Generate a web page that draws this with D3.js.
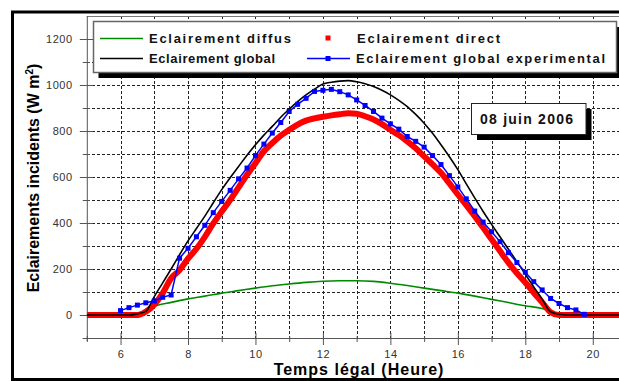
<!DOCTYPE html>
<html>
<head>
<meta charset="utf-8">
<script src="https://cdn.jsdelivr.net/npm/d3@7"></script>
<style>
  html, body { margin: 0; padding: 0; background: #fff; }
  svg { display: block; }
  text { font-family: "Liberation Sans", Arial, sans-serif; }
</style>
</head>
<body>
<svg id="chart" width="619" height="381"></svg>
<script>
// ---- Data: irradiance on 8 June 2006 (W m-2) versus local time (h) ----

// Modelled global and direct irradiance, quarter-hour grid
const modelHours = [5, 6.25, 6.5, 6.75, 7, 7.25, 7.5, 7.75, 8, 8.25, 8.5, 8.75, 9, 9.25, 9.5, 9.75,
  10, 10.25, 10.5, 10.75, 11, 11.25, 11.5, 11.75, 12, 12.25, 12.5, 12.75, 13, 13.25, 13.5, 13.75,
  14, 14.25, 14.5, 14.75, 15, 15.25, 15.5, 15.75, 16, 16.25, 16.5, 16.75, 17, 17.25, 17.5, 17.75,
  18, 18.25, 18.5, 18.75, 19, 19.25, 21];

const globalValues = [0, 0, 5, 16, 80, 140, 200, 262, 322, 376, 430, 488, 545, 597, 646, 695,
  740, 782, 820, 860, 895, 928, 957, 982, 1004, 1012, 1017, 1019, 1014, 1005, 993, 977,
  957, 933, 906, 872, 834, 790, 740, 688, 632, 570, 509, 450, 394, 340, 286, 232,
  177, 122, 69, 14, 3, 0, 0];

const directValues = [0, 0, 0, 14, 45, 95, 160, 195, 245, 288, 340, 398, 450, 500, 555, 610,
  660, 712, 748, 780, 805, 828, 845, 855, 862, 868, 873, 877, 875, 864, 850, 830,
  805, 782, 755, 725, 690, 655, 618, 572, 524, 478, 430, 380, 329, 278, 228, 182,
  141, 97, 55, 12, 0, 0, 0];

// Modelled diffuse irradiance, half-hour grid
const diffuseHours = [5, 6.5, 6.75, 7, 7.5, 8, 8.5, 9, 9.5, 10, 10.5, 11, 11.5, 12, 12.5, 13,
  13.5, 14, 14.5, 15, 15.5, 16, 16.5, 17, 17.5, 18, 18.5, 18.75, 19, 21];
const diffuseValues = [0, 0, 25, 38, 55, 70, 82, 95, 106, 117, 127, 135, 142, 147, 149, 149,
  146, 138, 128, 117, 106, 95, 82, 68, 54, 40, 28, 15, 0, 0];

// Measured global irradiance, every 15 minutes
const measuredHours = [6, 6.25, 6.5, 6.75, 7, 7.25, 7.5, 7.75, 8, 8.25, 8.5, 8.75, 9, 9.25, 9.5, 9.75,
  10, 10.25, 10.5, 10.75, 11, 11.25, 11.5, 11.75, 12, 12.25, 12.5, 12.75, 13, 13.25, 13.5, 13.75,
  14, 14.25, 14.5, 14.75, 15, 15.25, 15.5, 15.75, 16, 16.25, 16.5, 16.75, 17, 17.25, 17.5, 17.75,
  18, 18.25, 18.5, 18.75, 19, 19.25, 19.5, 19.75];
const measuredValues = [19, 32, 43, 53, 61, 77, 87, 247, 290, 340, 390, 445, 494, 542, 592, 639,
  693, 743, 791, 837, 885, 916, 942, 972, 977, 981, 971, 957, 935, 911, 885, 856,
  831, 808, 776, 755, 730, 693, 654, 606, 557, 505, 452, 404, 362, 319, 271, 228,
  186, 145, 109, 72, 50, 32, 22, 3];

// Axis ticks
const xMajorTicks = [6, 8, 10, 12, 14, 16, 18, 20];
const xMinorTicks = [5, 7, 9, 11, 13, 15, 17, 19, 21];
const yMajorTicks = [0, 200, 400, 600, 800, 1000, 1200];
const yMinorTicks = [-100, 100, 300, 500, 700, 900, 1100];
const xGrid = [6, 7, 8, 9, 10, 11, 12, 13, 14, 15, 16, 17, 18, 19, 20, 21];
const yGrid = [0, 100, 200, 300, 400, 500, 600, 700, 800, 900, 1000, 1100, 1200];

const legendLabels = ["Eclairement diffus", "Eclairement direct",
                      "Eclairement global", "Eclairement global experimental"];
const dateLabel = "08 juin 2006";
const xTitle = "Temps légal (Heure)";

// ---- Layout ----
const W = 619, H = 381;
const svg = d3.select("#chart");

const x = d3.scaleLinear().domain([5, 21]).range([86.8, 626.5]);
const y = d3.scaleLinear().domain([-100, 1300]).range([338, 16]);

const zip = (xs, ys) => xs.map((h, i) => [h, ys[i]]);
const globalData = zip(modelHours, globalValues);
const directData = zip(modelHours, directValues);
const diffuseData = zip(diffuseHours, diffuseValues);
const measuredData = zip(measuredHours, measuredValues);

// Outer frame (open on the right, beyond the window edge)
svg.append("rect")
  .attr("x", 12.5).attr("y", 12)
  .attr("width", W + 10).attr("height", 367.5)
  .attr("fill", "#fff").attr("stroke", "#000").attr("stroke-width", 3);

// Clip region for the plotting area
svg.append("defs").append("clipPath").attr("id", "plotClip")
  .append("rect")
  .attr("x", x(5)).attr("y", y(1300))
  .attr("width", W - x(5)).attr("height", y(-100) - y(1300));

// Grid
const grid = svg.append("g").attr("stroke", "#222").attr("stroke-width", 1)
  .attr("stroke-dasharray", "3,2").attr("shape-rendering", "crispEdges");
grid.selectAll(".vg").data(xGrid).join("line")
  .attr("x1", d => Math.round(x(d)) + 0.5).attr("x2", d => Math.round(x(d)) + 0.5)
  .attr("y1", y(1300)).attr("y2", y(-100));
grid.selectAll(".hg").data(yGrid).join("line")
  .attr("x1", x(5)).attr("x2", W)
  .attr("y1", d => Math.round(y(d)) + 0.5).attr("y2", d => Math.round(y(d)) + 0.5);

// Top border of the plot area
svg.append("line")
  .attr("x1", x(5)).attr("x2", W)
  .attr("y1", y(1300) + 0.5).attr("y2", y(1300) + 0.5)
  .attr("stroke", "#777").attr("stroke-width", 1);

// Axes
function styleAxis(g) {
  g.select(".domain").attr("stroke", "#555").attr("stroke-width", 1);
  g.selectAll(".tick line").attr("stroke", "#555").attr("stroke-width", 1);
  g.selectAll(".tick text")
    .attr("fill", "#333")
    .style("font-family", "'Liberation Sans', Arial, sans-serif")
    .style("font-size", "11px")
    .style("letter-spacing", "0.6px");
}

const gyMinor = svg.append("g").attr("transform", `translate(${x(5)},0)`)
  .call(d3.axisLeft(y).tickValues(yMinorTicks).tickSize(4).tickSizeOuter(0).tickFormat(""));
gyMinor.select(".domain").remove();
gyMinor.selectAll(".tick line").attr("x1", 3);
styleAxis(gyMinor);

const gy = svg.append("g").attr("transform", `translate(${x(5)},0)`)
  .call(d3.axisLeft(y).tickValues(yMajorTicks).tickSize(7).tickSizeOuter(0).tickPadding(7)
        .tickFormat(d3.format("d")));
gy.select(".domain").attr("d", `M0.5,${y(1300)}V${y(-100) + 3}`);
gy.selectAll(".tick line").attr("x1", 6);
styleAxis(gy);

const gxMinor = svg.append("g").attr("transform", `translate(0,${y(-100)})`)
  .call(d3.axisBottom(x).tickValues(xMinorTicks).tickSize(4).tickSizeOuter(0).tickFormat(""));
gxMinor.select(".domain").remove();
gxMinor.selectAll(".tick line").attr("y1", -2);
styleAxis(gxMinor);

const gx = svg.append("g").attr("transform", `translate(0,${y(-100)})`)
  .call(d3.axisBottom(x).tickValues(xMajorTicks).tickSize(7).tickSizeOuter(0).tickPadding(5)
        .tickFormat(d3.format("d")));
gx.select(".domain").attr("d", `M${x(5) - 4},0.5H${W}`);
gx.selectAll(".tick line").attr("y1", -5);
styleAxis(gx);

// Series
const line = d3.line().x(d => x(d[0])).y(d => y(d[1])).curve(d3.curveMonotoneX);
const plot = svg.append("g").attr("clip-path", "url(#plotClip)");

plot.append("path").datum(diffuseData).attr("d", line)
  .attr("fill", "none").attr("stroke", "#008a00").attr("stroke-width", 1.6);

plot.append("path").datum(directData).attr("d", line)
  .attr("fill", "none").attr("stroke", "#ff0000").attr("stroke-width", 6)
  .attr("stroke-linejoin", "miter");

plot.append("path").datum(globalData).attr("d", line)
  .attr("fill", "none").attr("stroke", "#000").attr("stroke-width", 1.6);

plot.append("path").datum(measuredData).attr("d", d3.line().x(d => x(d[0])).y(d => y(d[1])))
  .attr("fill", "none").attr("stroke", "#0000ff").attr("stroke-width", 1.5);

plot.selectAll(".mk").data(measuredData).join("rect")
  .attr("x", d => x(d[0]) - 2.5).attr("y", d => y(d[1]) - 2.5)
  .attr("width", 5).attr("height", 5).attr("fill", "#0000ff");

// Legend
const lg = svg.append("g");
lg.append("rect").attr("x", 98.5).attr("y", 27).attr("width", 523).attr("height", 51).attr("fill", "#000");
lg.append("rect").attr("x", 93.5).attr("y", 21.5).attr("width", 523).attr("height", 51)
  .attr("fill", "#fff").attr("stroke", "#666").attr("stroke-width", 1.5);

const legendFont = g => g.attr("fill", "#111")
  .style("font-size", "13px").style("font-weight", "bold");

// diffuse
lg.append("line").attr("x1", 100).attr("x2", 143).attr("y1", 38.5).attr("y2", 38.5)
  .attr("stroke", "#008a00").attr("stroke-width", 1.6);
lg.append("text").attr("x", 149).attr("y", 43).text(legendLabels[0])
  .attr("textLength", 142).attr("lengthAdjust", "spacing").call(legendFont);
// direct
lg.append("rect").attr("x", 325.5).attr("y", 35.5).attr("width", 5).attr("height", 5).attr("fill", "#ff0000");
lg.append("text").attr("x", 357).attr("y", 43).text(legendLabels[1])
  .attr("textLength", 143).attr("lengthAdjust", "spacing").call(legendFont);
// global
lg.append("line").attr("x1", 100).attr("x2", 143).attr("y1", 58.5).attr("y2", 58.5)
  .attr("stroke", "#000").attr("stroke-width", 1.6);
lg.append("text").attr("x", 149).attr("y", 63).text(legendLabels[2])
  .attr("textLength", 126).attr("lengthAdjust", "spacing").call(legendFont);
// measured
lg.append("line").attr("x1", 307).attr("x2", 350).attr("y1", 58.5).attr("y2", 58.5)
  .attr("stroke", "#0000ff").attr("stroke-width", 1.5);
lg.append("rect").attr("x", 325.5).attr("y", 56).attr("width", 5).attr("height", 5).attr("fill", "#0000ff");
lg.append("text").attr("x", 356).attr("y", 63).text(legendLabels[3])
  .attr("textLength", 249).attr("lengthAdjust", "spacing").call(legendFont);

// Date box
const db = svg.append("g");
db.append("rect").attr("x", 477).attr("y", 109).attr("width", 114.5).attr("height", 31).attr("fill", "#000");
db.append("rect").attr("x", 471.5).attr("y", 103.5).attr("width", 114.5).attr("height", 31)
  .attr("fill", "#fff").attr("stroke", "#222").attr("stroke-width", 1);
db.append("text").attr("x", 480).attr("y", 124).text(dateLabel)
  .attr("textLength", 93).attr("lengthAdjust", "spacing")
  .attr("fill", "#111").style("font-size", "14px").style("font-weight", "bold");

// Axis titles
svg.append("text")
  .attr("x", 359).attr("y", 375)
  .attr("text-anchor", "middle")
  .attr("fill", "#000")
  .style("font-size", "16px").style("font-weight", "bold").style("letter-spacing", "1px")
  .text(xTitle);

const yt = svg.append("text")
  .attr("transform", "translate(38.5,178) rotate(-90)")
  .attr("text-anchor", "middle")
  .attr("fill", "#000")
  .style("font-size", "16px").style("font-weight", "bold");
yt.append("tspan").text("Eclairements incidents (W m");
yt.append("tspan").attr("dy", -6).style("font-size", "10px").text("2");
yt.append("tspan").attr("dy", 6).text(")");
</script>
</body>
</html>
